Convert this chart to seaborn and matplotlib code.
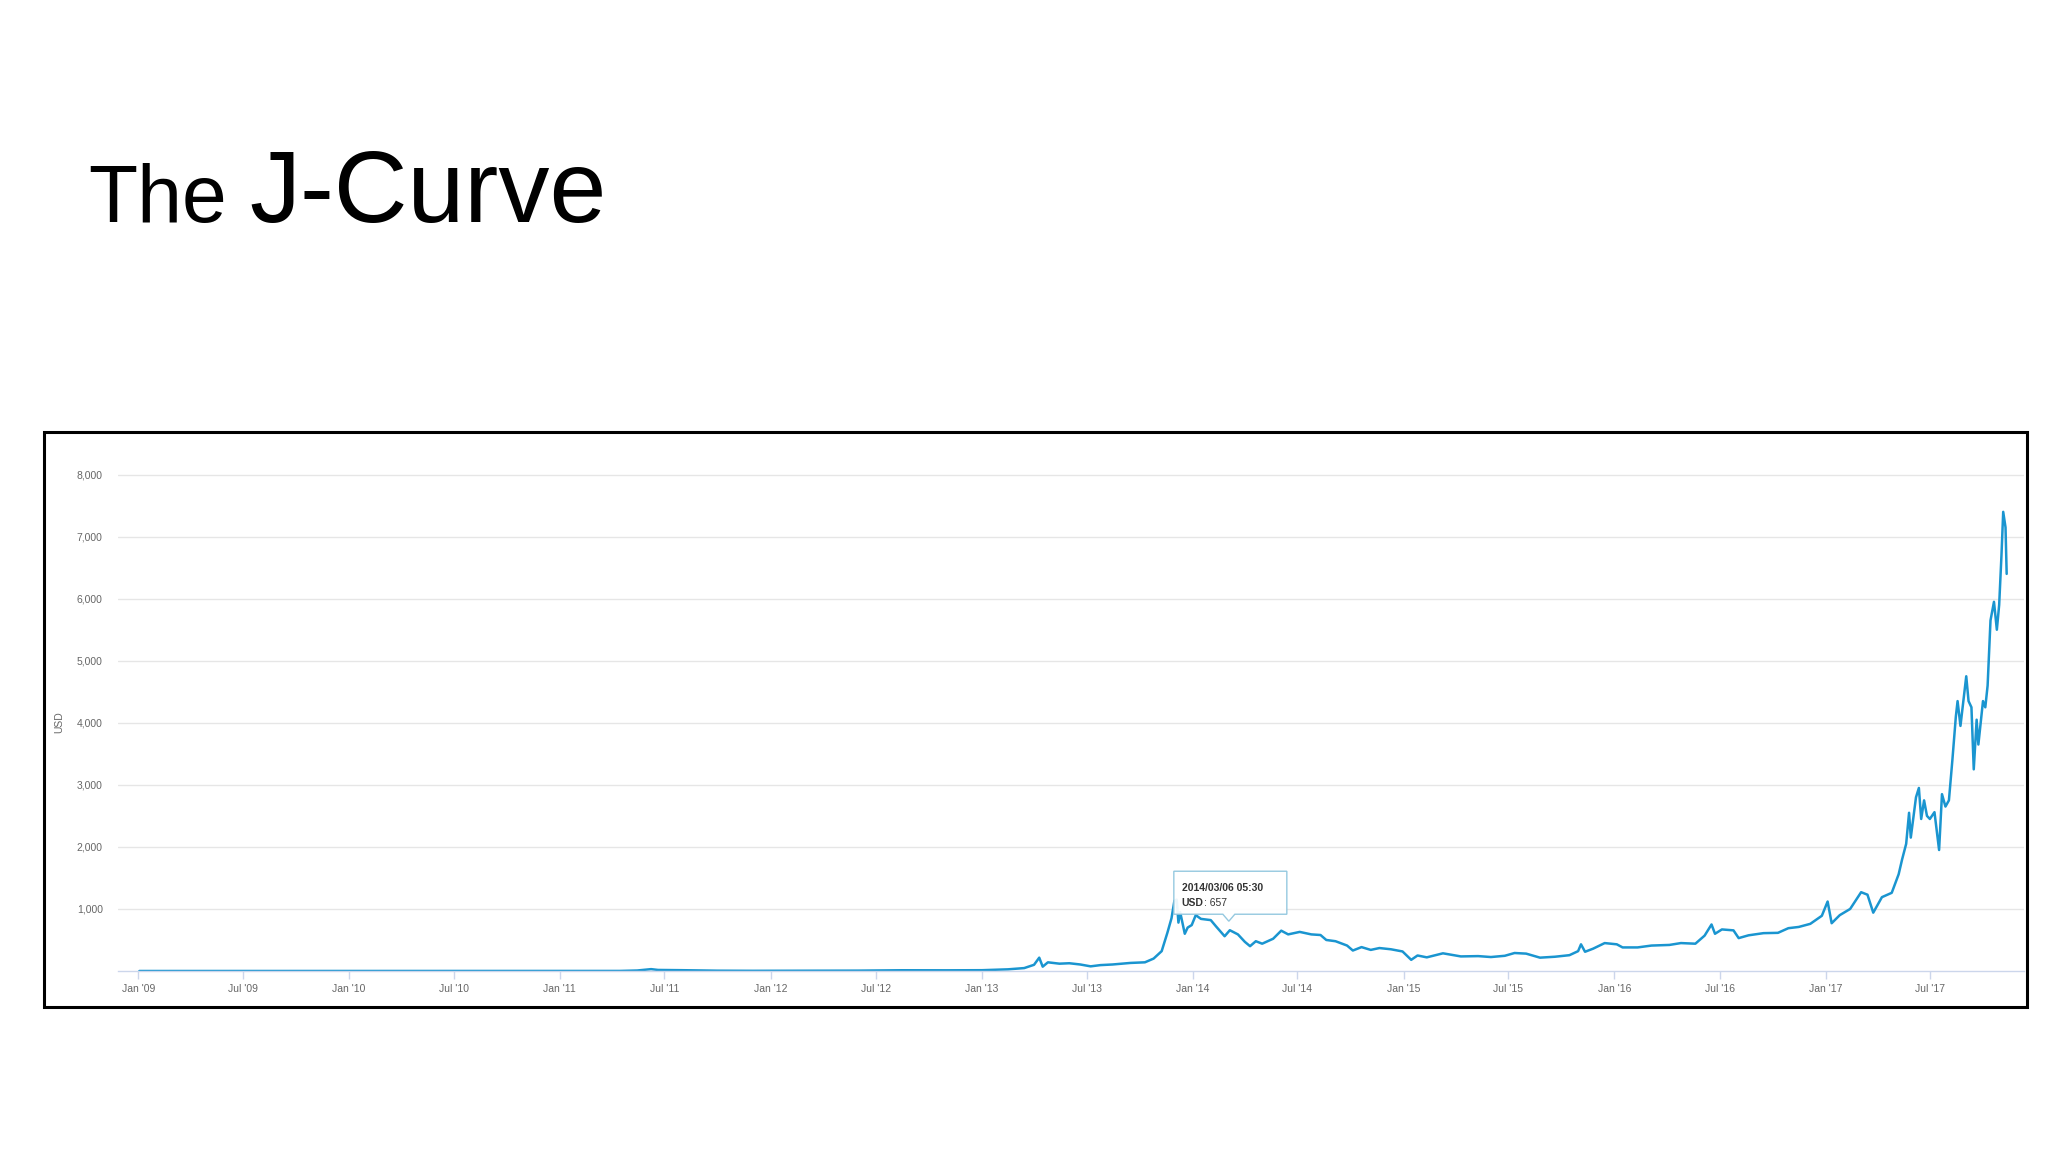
import matplotlib
matplotlib.use("Agg")
import matplotlib.pyplot as plt
import matplotlib.dates as mdates
import matplotlib.patches as mpatches
import matplotlib.transforms as mtransforms
import seaborn as sns
import pandas as pd

# price series (USD)
dates = [
    "2009-01-03", "2009-07-01", "2010-01-01", "2010-07-18", "2010-11-06",
    "2011-02-10", "2011-04-15", "2011-05-15", "2011-06-08", "2011-06-20",
    "2011-08-01", "2011-10-01", "2011-12-01", "2012-03-01", "2012-06-01",
    "2012-08-15", "2012-11-01", "2013-01-01", "2013-02-15", "2013-03-15",
    "2013-04-01", "2013-04-10", "2013-04-16", "2013-04-25", "2013-05-15",
    "2013-06-01", "2013-06-20", "2013-07-08", "2013-07-25", "2013-08-15",
    "2013-09-15", "2013-10-10", "2013-10-25", "2013-11-08", "2013-11-18",
    "2013-11-25", "2013-11-30", "2013-12-04", "2013-12-07", "2013-12-10",
    "2013-12-18", "2013-12-23", "2013-12-30", "2014-01-06", "2014-01-15",
    "2014-02-01", "2014-02-10", "2014-02-25", "2014-03-06", "2014-03-20",
    "2014-04-01", "2014-04-10", "2014-04-20", "2014-05-01", "2014-05-20",
    "2014-06-03", "2014-06-15", "2014-07-05", "2014-07-25", "2014-08-10",
    "2014-08-20", "2014-09-05", "2014-09-25", "2014-10-05", "2014-10-20",
    "2014-11-05", "2014-11-20", "2014-12-10", "2014-12-30", "2015-01-14",
    "2015-01-25", "2015-02-10", "2015-03-10", "2015-04-10", "2015-05-10",
    "2015-06-01", "2015-06-25", "2015-07-12", "2015-08-01", "2015-08-25",
    "2015-09-20", "2015-10-15", "2015-10-30", "2015-11-04", "2015-11-11",
    "2015-11-25", "2015-12-15", "2016-01-05", "2016-01-15", "2016-02-10",
    "2016-03-05", "2016-04-05", "2016-04-25", "2016-05-20", "2016-06-05",
    "2016-06-17", "2016-06-23", "2016-07-05", "2016-07-25", "2016-08-03",
    "2016-08-20", "2016-09-15", "2016-10-10", "2016-10-28", "2016-11-15",
    "2016-12-05", "2016-12-25", "2017-01-04", "2017-01-11", "2017-01-25",
    "2017-02-12", "2017-03-03", "2017-03-14", "2017-03-24", "2017-04-08",
    "2017-04-25", "2017-05-07", "2017-05-13", "2017-05-20", "2017-05-25",
    "2017-05-28", "2017-06-06", "2017-06-11", "2017-06-15", "2017-06-20",
    "2017-06-25", "2017-06-30", "2017-07-08", "2017-07-16", "2017-07-21",
    "2017-07-27", "2017-08-02", "2017-08-08", "2017-08-14", "2017-08-17",
    "2017-08-22", "2017-09-01", "2017-09-05", "2017-09-10", "2017-09-14",
    "2017-09-19", "2017-09-22", "2017-09-30", "2017-10-04", "2017-10-08",
    "2017-10-13", "2017-10-19", "2017-10-24", "2017-10-28", "2017-11-01",
    "2017-11-04", "2017-11-08", "2017-11-10",
]
usd = [
    0, 0, 0, 0.05, 0.3,
    1, 1, 8, 30, 17,
    13, 5, 3, 5, 6,
    12, 11, 13, 27, 47,
    100, 215, 70, 140, 118,
    125, 105, 75, 95, 105,
    130, 140, 200, 320, 620,
    850, 1130, 1150, 780, 950,
    600, 700, 740, 900, 840,
    820, 720, 560, 657, 590,
    470, 400, 480, 440, 520,
    650, 590, 630, 590, 580,
    500, 480, 410, 330, 385,
    340, 370, 350, 315, 180,
    250, 220, 285, 235, 240,
    225, 245, 290, 280, 215,
    230, 255, 320, 430, 310,
    360, 450, 430, 380, 380,
    410, 420, 450, 440, 570,
    750, 600, 670, 655, 530,
    575, 610, 615, 690, 710,
    760, 890, 1120, 770, 900,
    1000, 1270, 1230, 940, 1190,
    1260, 1560, 1800, 2050, 2550,
    2150, 2800, 2950, 2450, 2750,
    2500, 2450, 2560, 1950, 2850,
    2650, 2750, 3400, 4100, 4350,
    3950, 4750, 4350, 4250, 3250,
    4050, 3650, 4350, 4250, 4600,
    5650, 5950, 5500, 5900, 6700,
    7400, 7150, 6400,
]
ytick_values = [1000, 2000, 3000, 4000, 5000, 6000, 7000, 8000]
tooltip_date = "2014-03-06"
tooltip_time = "2014/03/06 05:30"
tooltip_value = 657

sns.set_theme(style="white")
plt.rcParams['font.family'] = ['Liberation Sans', 'DejaVu Sans']

df = pd.DataFrame({"date": pd.to_datetime(dates), "USD": usd})

W, H = 2048, 1152
fig = plt.figure(figsize=(20.48, 11.52), dpi=100)
fig.patch.set_facecolor("white")

# plot area (pixel layout taken from the slide)
ax = fig.add_axes([118 / W, 1 - 971 / H, (2024 - 118) / W, (971 - 456) / H])
sns.lineplot(data=df, x="date", y="USD", ax=ax, color="#1a95d0", linewidth=1.8)

ax.set_xlim(pd.Timestamp("2008-11-27"), pd.Timestamp("2017-12-10"))
ax.set_ylim(0, 8300)
ax.set_yticks(ytick_values)
ax.yaxis.set_major_formatter(matplotlib.ticker.FuncFormatter(lambda v, p: f"{int(v):,}"))
ax.xaxis.set_major_locator(mdates.MonthLocator(bymonth=[1, 7]))
ax.xaxis.set_major_formatter(mdates.DateFormatter("%b '%y"))

ax.grid(axis="y", color="#e6e6e6", linewidth=1)
ax.grid(axis="x", visible=False)
for s in ["left", "top", "right"]:
    ax.spines[s].set_visible(False)
ax.spines["bottom"].set_color("#ccd6eb")
ax.spines["bottom"].set_linewidth(1)
ax.tick_params(axis="x", bottom=True, length=6, width=1, color="#ccd6eb",
               pad=3, labelsize=7.5, labelcolor="#666666")
ax.tick_params(axis="y", left=False, length=0, pad=11, labelsize=7.5,
               labelcolor="#666666")
ax.set_xlabel("")
ax.set_ylabel("")
fig.text(59 / W, 1 - 722 / H, "USD", rotation=90, ha="center", va="center",
         fontsize=7.5, color="#666666")

# black frame round the chart
fig.add_artist(mpatches.Rectangle((44 / W, 1 - 1007 / H), (2027 - 44) / W, (1007 - 432) / H,
                                  transform=fig.transFigure, fill=False,
                                  edgecolor="black", linewidth=2.2))

# title
fig.text(88 / W, 1 - 222 / H, "The", fontsize=58, va="baseline", color="black")
fig.text(249 / W, 1 - 222 / H, "J-Curve", fontsize=73.5, va="baseline", color="black")

# tooltip at the hovered point
px, py = ax.transData.transform((mdates.date2num(pd.Timestamp(tooltip_date)), tooltip_value))
ident = mtransforms.IdentityTransform()
l, r, b, t = px - 56, px + 57, py + 16, py + 59
cx = px - 1
tip = mpatches.Polygon([(l, b), (cx - 6, b), (cx, py + 9), (cx + 6, b), (r, b), (r, t), (l, t)],
                       closed=True, transform=ident, facecolor="white", alpha=0.92,
                       edgecolor="#8cc4dd", linewidth=1, zorder=5)
fig.add_artist(tip)
fig.text(px - 48, py + 42, tooltip_time, transform=ident, fontsize=7.5, fontweight="bold",
         color="#333333", va="center", ha="left", zorder=6)
t_usd = fig.text(px - 48, py + 27, "USD", transform=ident, fontsize=7.5, fontweight="bold",
                 color="#333333", va="center", ha="left", zorder=6)
fig.add_artist(matplotlib.text.Annotation(f": {tooltip_value}", xy=(1, 0.5), xycoords=t_usd,
                                          va="center", ha="left", fontsize=7.5,
                                          color="#333333", zorder=6))

fig.savefig("out.png", dpi=100)
